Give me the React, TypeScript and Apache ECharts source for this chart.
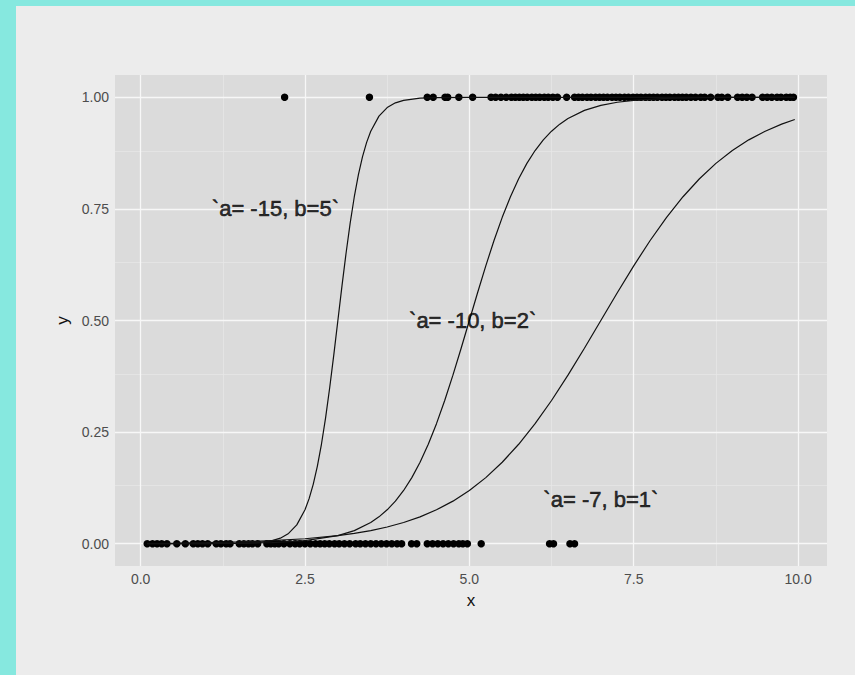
import React, { useEffect, useRef } from "react";
import * as echarts from "echarts";

// points read along the curve `a= -15, b=5`
const curve15X = [0.1, 1.0, 1.5, 1.75, 2.0, 2.125, 2.25, 2.375, 2.5, 2.5625, 2.625, 2.6875, 2.75, 2.8125, 2.875, 2.9375, 3.0, 3.0625, 3.125, 3.1875, 3.25, 3.3125, 3.375, 3.4375, 3.5, 3.625, 3.75, 3.875, 4.0, 4.25, 4.5, 5.0, 9.95];
const curve15Y = [0, 0, 0.0006, 0.0019, 0.0067, 0.0124, 0.023, 0.0421, 0.0759, 0.1009, 0.133, 0.1733, 0.2227, 0.2814, 0.3487, 0.4225, 0.5, 0.5775, 0.6513, 0.7186, 0.7773, 0.8267, 0.867, 0.8991, 0.9241, 0.9579, 0.977, 0.9876, 0.9933, 0.9981, 0.9994, 1, 1];

// points read along the curve `a= -10, b=2`
const curve10X = [0.1, 1.0, 2.0, 2.5, 3.0, 3.25, 3.5, 3.625, 3.75, 3.875, 4.0, 4.125, 4.25, 4.375, 4.5, 4.625, 4.75, 4.875, 5.0, 5.125, 5.25, 5.375, 5.5, 5.625, 5.75, 5.875, 6.0, 6.125, 6.25, 6.375, 6.5, 6.75, 7.0, 7.25, 7.5, 8.0, 8.5, 9.0, 9.95];
const curve10Y = [0.0001, 0.0003, 0.0025, 0.0067, 0.018, 0.0293, 0.0474, 0.0601, 0.0759, 0.0953, 0.1192, 0.148, 0.1824, 0.2227, 0.2689, 0.3208, 0.3775, 0.4378, 0.5, 0.5622, 0.6225, 0.6792, 0.7311, 0.7773, 0.8176, 0.852, 0.8808, 0.9047, 0.9241, 0.9399, 0.9526, 0.9707, 0.982, 0.989, 0.9933, 0.9975, 0.9991, 0.9997, 1];

// points read along the curve `a= -7, b=1`
const curve7X = [0.1, 0.5, 1.0, 1.5, 2.0, 2.5, 3.0, 3.25, 3.5, 3.75, 4.0, 4.25, 4.5, 4.75, 5.0, 5.25, 5.5, 5.75, 6.0, 6.25, 6.5, 6.75, 7.0, 7.25, 7.5, 7.75, 8.0, 8.25, 8.5, 8.75, 9.0, 9.25, 9.5, 9.75, 9.95];
const curve7Y = [0.001, 0.0015, 0.0025, 0.0041, 0.0067, 0.011, 0.018, 0.023, 0.0293, 0.0373, 0.0474, 0.0601, 0.0759, 0.0953, 0.1192, 0.148, 0.1824, 0.2227, 0.2689, 0.3208, 0.3775, 0.4378, 0.5, 0.5622, 0.6225, 0.6792, 0.7311, 0.7773, 0.8176, 0.852, 0.8808, 0.9047, 0.9241, 0.9399, 0.9503];

// observed points with y = 1
const pointsAtOne = [2.19, 3.48, 4.36, 4.45, 4.63, 4.67, 4.84, 5.05, 5.33, 5.4, 5.48, 5.56, 5.64, 5.7, 5.76, 5.82, 5.88, 5.95, 6.01, 6.07, 6.14, 6.2, 6.27, 6.34, 6.48, 6.6, 6.66, 6.72, 6.79, 6.85, 6.92, 6.98, 7.04, 7.1, 7.17, 7.23, 7.29, 7.36, 7.42, 7.49, 7.55, 7.61, 7.68, 7.74, 7.8, 7.86, 7.93, 7.99, 8.05, 8.12, 8.18, 8.24, 8.3, 8.37, 8.44, 8.52, 8.58, 8.67, 8.78, 8.84, 8.93, 9.08, 9.15, 9.22, 9.3, 9.46, 9.53, 9.6, 9.68, 9.74, 9.82, 9.88, 9.93];
// observed points with y = 0
const pointsAtZero = [0.1, 0.18, 0.25, 0.32, 0.4, 0.55, 0.68, 0.8, 0.87, 0.94, 1.02, 1.15, 1.22, 1.3, 1.36, 1.5, 1.57, 1.64, 1.7, 1.78, 1.92, 1.98, 2.04, 2.1, 2.18, 2.27, 2.35, 2.42, 2.5, 2.58, 2.66, 2.73, 2.8, 2.87, 2.95, 3.02, 3.1, 3.18, 3.27, 3.34, 3.42, 3.5, 3.58, 3.66, 3.74, 3.82, 3.9, 3.97, 4.12, 4.2, 4.36, 4.44, 4.52, 4.6, 4.68, 4.76, 4.84, 4.9, 4.97, 5.18, 6.22, 6.28, 6.53, 6.6];

const xTicks = [0, 2.5, 5, 7.5, 10];
const xTickLabels = ["0.0", "2.5", "5.0", "7.5", "10.0"];
const yTicks = [0, 0.25, 0.5, 0.75, 1];
const yTickLabels = ["0.00", "0.25", "0.50", "0.75", "1.00"];
const xMinor = [1.25, 3.75, 6.25, 8.75];
const yMinor = [0.125, 0.375, 0.625, 0.875];

const annotationTexts = ["`a= -15, b=5`", "`a= -10, b=2`", "`a= -7, b=1`"];
const annotationX = [2.05, 5.05, 7];
const annotationY = [0.75, 0.5, 0.1];

const FONT = "'Liberation Sans', Arial, Helvetica, sans-serif";

export default function App() {
  const ref = useRef<HTMLDivElement>(null);

  useEffect(() => {
    if (!ref.current) return;
    const chart = echarts.init(ref.current, undefined, { renderer: "svg" });

    const pair = (xs: number[], ys: number[]) => xs.map((x, i) => [x, ys[i]]);
    const curveStyle = { color: "#111", width: 1.2 };
    const curve = (xs: number[], ys: number[]) => ({
      type: "line",
      data: pair(xs, ys),
      showSymbol: false,
      smooth: false,
      lineStyle: curveStyle,
      silent: true,
      z: 4,
    });

    const option: any = {
      animation: false,
      backgroundColor: "#ececec",
      textStyle: { fontFamily: FONT },
      grid: {
        left: 99,
        top: 69,
        right: 28,
        bottom: 109,
        show: true,
        backgroundColor: "#dbdbdb",
        borderWidth: 0,
      },
      xAxis: {
        type: "value",
        min: -0.39,
        max: 10.44,
        name: "x",
        nameLocation: "middle",
        nameGap: 26,
        nameTextStyle: { color: "#111", fontSize: 17, fontFamily: FONT },
        axisLine: { show: false },
        splitLine: { show: false },
        axisTick: {
          show: true,
          customValues: xTicks,
          length: 3,
          lineStyle: { color: "#333", width: 1 },
        },
        axisLabel: {
          customValues: xTicks,
          margin: 6,
          color: "#4d4d4d",
          fontSize: 14,
          fontFamily: FONT,
          formatter: (v: number) => xTickLabels[xTicks.indexOf(v)] ?? "",
        },
      },
      yAxis: {
        type: "value",
        min: -0.05,
        max: 1.05,
        name: "y",
        nameLocation: "middle",
        nameGap: 43,
        nameRotate: 90,
        nameTextStyle: { color: "#111", fontSize: 17, fontFamily: FONT },
        axisLine: { show: false },
        splitLine: { show: false },
        axisTick: {
          show: true,
          customValues: yTicks,
          length: 3,
          lineStyle: { color: "#333", width: 1 },
        },
        axisLabel: {
          customValues: yTicks,
          margin: 6,
          color: "#4d4d4d",
          fontSize: 14,
          fontFamily: FONT,
          formatter: (v: number) => yTickLabels[yTicks.indexOf(v)] ?? "",
        },
      },
      series: [
        {
          type: "line",
          data: [],
          silent: true,
          z: 1,
          markLine: {
            silent: true,
            z: 1,
            symbol: "none",
            label: { show: false },
            lineStyle: { color: "#e6e6e6", width: 0.8, type: "solid" },
            data: [
              ...xMinor.map((v) => ({ xAxis: v })),
              ...yMinor.map((v) => ({ yAxis: v })),
            ],
          },
        },
        {
          type: "line",
          data: [],
          silent: true,
          z: 1,
          markLine: {
            silent: true,
            z: 1,
            symbol: "none",
            label: { show: false },
            lineStyle: { color: "#f7f7f7", width: 1.3, type: "solid" },
            data: [
              ...xTicks.map((v) => ({ xAxis: v })),
              ...yTicks.map((v) => ({ yAxis: v })),
            ],
          },
        },
        {
          type: "scatter",
          data: pointsAtZero.map((x) => [x, 0]),
          symbol: "circle",
          symbolSize: 7.5,
          itemStyle: { color: "#000", opacity: 1, borderWidth: 0 },
          silent: true,
          z: 3,
        },
        {
          type: "scatter",
          data: pointsAtOne.map((x) => [x, 1]),
          symbol: "circle",
          symbolSize: 7.5,
          itemStyle: { color: "#000", opacity: 1, borderWidth: 0 },
          silent: true,
          z: 3,
        },
        curve(curve15X, curve15Y),
        curve(curve10X, curve10Y),
        curve(curve7X, curve7Y),
        {
          type: "scatter",
          data: annotationTexts.map((t, i) => ({
            value: [annotationX[i], annotationY[i]],
            name: t,
          })),
          symbolSize: 0,
          silent: true,
          z: 6,
          label: {
            show: true,
            position: "inside",
            formatter: (p: any) => p.name,
            color: "#000",
            fontSize: 22,
            fontFamily: FONT,
            textBorderColor: "#000",
            textBorderWidth: 0.6,
          },
        },
      ],
    };

    chart.setOption(option);
    return () => chart.dispose();
  }, []);

  return (
    <div
      style={{
        position: "fixed",
        left: 0,
        top: 0,
        width: 855,
        height: 675,
        background: "#86e8df",
      }}
    >
      <div
        ref={ref}
        style={{ position: "absolute", left: 16, top: 6, width: 839, height: 669 }}
      />
    </div>
  );
}
